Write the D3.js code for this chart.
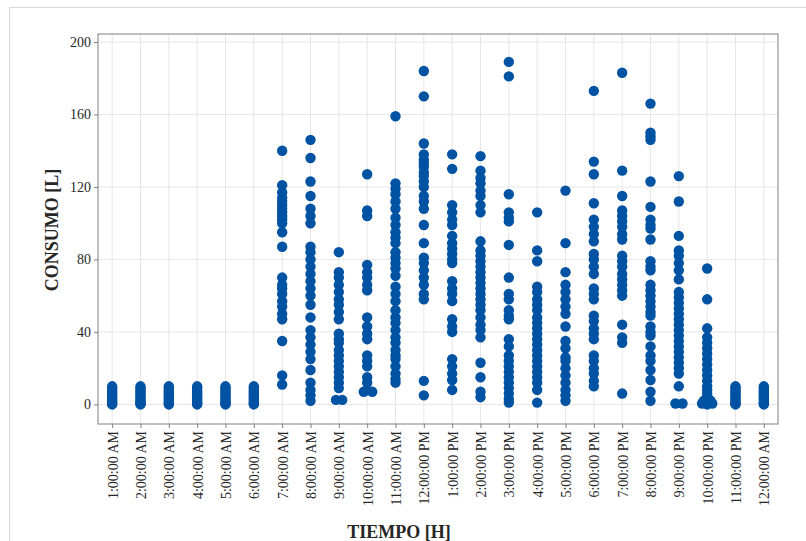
<!DOCTYPE html>
<html lang="en">
<head>
    <meta charset="UTF-8">
    <title>consumo</title>
    <style>
        body{
            margin:0px;
            background-color: #ffffff;
        }
        svg{
            display:block;
            font-family: "Liberation Serif", "Times New Roman", serif;
        }
    </style>
</head>
<body>
    <svg></svg>

    <script src="https://d3js.org/d3.v7.min.js"></script>
    <script>
        // hours on the x axis (1 = 1:00 AM ... 24 = 12:00 AM)
        var hours = d3.range(1, 25);
        var yTicks = [0, 40, 80, 120, 160, 200];

        // consumption readings [L] per hour
        var lowHour = [0, 0.5, 1, 2, 3, 4, 5, 6, 7, 8, 9, 10];
        var consumo = [
            lowHour, lowHour, lowHour, lowHour, lowHour, lowHour,
            [140, 121, 117, 114, 112, 110, 108, 106, 104, 102, 100, 95, 87, 70, 66, 64, 61, 57, 54, 50, 47, 35, 16, 11],
            [146, 136, 123, 115, 108, 104, 100, 87, 84, 80, 76, 72, 68, 64, 60, 55, 48, 41, 37, 33, 29, 25, 19, 12, 8, 5, 2],
            [84, 73, 70, 66, 62, 58, 55, 51, 47, 39, 36, 34, 30, 27, 24, 21, 18, 15, 12, 9],
            [127, 107, 104, 77, 73, 70, 66, 63, 48, 43, 39, 36, 27, 24, 21, 15, 12, 8],
            [159, 122, 119, 116, 112, 108, 103, 99, 95, 92, 89, 84, 81, 78, 75, 71, 65, 61, 57, 52, 48, 45, 41, 37, 34, 30, 27, 25, 21, 17, 14, 12],
            [184, 170, 144, 138, 135, 133, 131, 128, 126, 123, 120, 115, 112, 108, 99, 89, 81, 78, 74, 70, 66, 61, 58, 13, 5],
            [138, 130, 110, 106, 102, 99, 93, 89, 86, 83, 80, 78, 68, 64, 61, 57, 47, 43, 40, 25, 21, 17, 13.5, 8],
            [137, 129, 125, 122, 118, 115, 110, 106, 90, 85, 82, 79, 76, 73, 70, 67, 64, 61, 58, 55, 52, 48, 44, 41, 37, 23, 15, 7, 4],
            [189, 181, 116, 106, 103, 101, 88, 70, 61, 58, 52, 49, 47, 36, 32, 27, 24, 21, 18, 15, 12, 9, 6, 3, 1],
            [106, 85, 79, 65, 62, 58, 55, 52, 48, 45, 42, 39, 36, 33, 30, 27, 24, 21, 18, 15, 12, 8, 1],
            [118, 89, 73, 66, 62, 58, 54, 50, 43, 35, 31, 26, 24, 20, 16, 12, 8, 5, 2],
            [173, 134, 127, 111, 102, 98, 94, 90, 83, 80, 76, 72, 64, 61, 58, 49, 46, 42, 39, 36, 27, 24, 20, 17, 13, 10],
            [183, 129, 115, 107, 104, 101, 98, 94, 91, 82, 79, 76, 72, 69, 66, 63, 60, 44, 37, 34, 6],
            [166, 150, 148, 146, 123, 109, 102, 99, 97, 91, 79, 76, 74, 66, 63, 60, 57, 54, 51, 49, 43, 40, 38, 32, 27, 24, 19, 13.5, 7, 2],
            [126, 112, 93, 85, 82, 78, 74, 69, 62, 59, 56, 53, 50, 47, 44, 41, 38, 35, 32, 29, 26, 23, 20, 17, 10],
            [75, 58, 42, 37, 34, 31, 28, 25, 22, 19, 16, 13, 10, 8, 6, 4, 3, 2, 1, 0],
            lowHour, lowHour
        ];

        // readings logged a few minutes off the hour: [hour, consumo]
        var offHour = [
            [8.9, 2.5], [9.12, 2.5],
            [9.88, 7], [10.18, 7],
            [20.88, 0.5], [21.13, 0.5],
            [21.82, 0.5], [21.88, 2], [22.12, 2], [22.18, 0.5], [22.05, 3]
        ];

        function hourLabel(h){
            var ampm = (h >= 12 && h < 24) ? "PM" : "AM";
            var hh = h % 12 === 0 ? 12 : h % 12;
            return hh + ":00:00 " + ampm;
        }

        var W = 806, H = 541;
        var svg = d3.select("svg").attr("width", W).attr("height", H);

        // outer frame
        svg.append("rect")
            .attr("x", 9.5).attr("y", 7.5)
            .attr("width", W).attr("height", H)
            .attr("fill", "none").attr("stroke", "#d9d9d9");

        var pLeft = 98, pRight = 778, pTop = 34, pBottom = 424;

        var x = d3.scaleLinear().domain([0.5, 24.5]).range([pLeft, pRight]);
        var y = d3.scaleLinear().domain([-10.8, 204.4]).range([pBottom, pTop]);

        // grid
        var grid = svg.append("g").attr("stroke", "#e6e6e6").attr("stroke-width", 1);
        grid.selectAll(".gx").data(hours).enter().append("line")
            .attr("x1", d => x(d)).attr("x2", d => x(d))
            .attr("y1", pTop).attr("y2", pBottom);
        grid.selectAll(".gy").data(yTicks).enter().append("line")
            .attr("x1", pLeft).attr("x2", pRight)
            .attr("y1", d => y(d)).attr("y2", d => y(d));

        // points
        var pts = [];
        consumo.forEach(function(vals, i){
            vals.forEach(function(v){ pts.push([hours[i], v]); });
        });
        offHour.forEach(function(p){ pts.push(p); });

        svg.append("g").selectAll("circle")
            .data(pts).enter().append("circle")
            .attr("cx", d => x(d[0]))
            .attr("cy", d => y(d[1]))
            .attr("r", 5.2)
            .attr("fill", "#0052a3");

        // panel border
        svg.append("rect")
            .attr("x", pLeft).attr("y", pTop)
            .attr("width", pRight - pLeft).attr("height", pBottom - pTop)
            .attr("fill", "none").attr("stroke", "#808080").attr("stroke-width", 1);

        // axes
        var yAxis = svg.append("g")
            .attr("transform", "translate(" + pLeft + ",0)")
            .call(d3.axisLeft(y).tickValues(yTicks).tickSize(4).tickPadding(3));
        var xAxis = svg.append("g")
            .attr("transform", "translate(0," + pBottom + ")")
            .call(d3.axisBottom(x).tickValues(hours).tickSize(4).tickFormat(hourLabel));

        [yAxis, xAxis].forEach(function(a){
            a.select(".domain").remove();
            a.selectAll(".tick line").attr("stroke", "#808080");
            a.selectAll("text")
                .attr("fill", "#262626")
                .style("font-family", "'Liberation Serif', serif")
                .style("font-size", "14px");
        });

        xAxis.selectAll("text")
            .attr("transform", "rotate(-90)")
            .attr("text-anchor", "end")
            .attr("x", -7)
            .attr("y", 0)
            .attr("dy", "0.35em");

        // axis titles
        svg.append("text")
            .attr("x", 399).attr("y", 538)
            .attr("text-anchor", "middle")
            .attr("font-weight", "bold")
            .attr("font-size", 18)
            .attr("fill", "#262626")
            .text("TIEMPO [H]");

        svg.append("text")
            .attr("transform", "translate(57.5,230) rotate(-90)")
            .attr("text-anchor", "middle")
            .attr("font-weight", "bold")
            .attr("font-size", 18)
            .attr("fill", "#262626")
            .text("CONSUMO [L]");
    </script>
</body>
</html>
